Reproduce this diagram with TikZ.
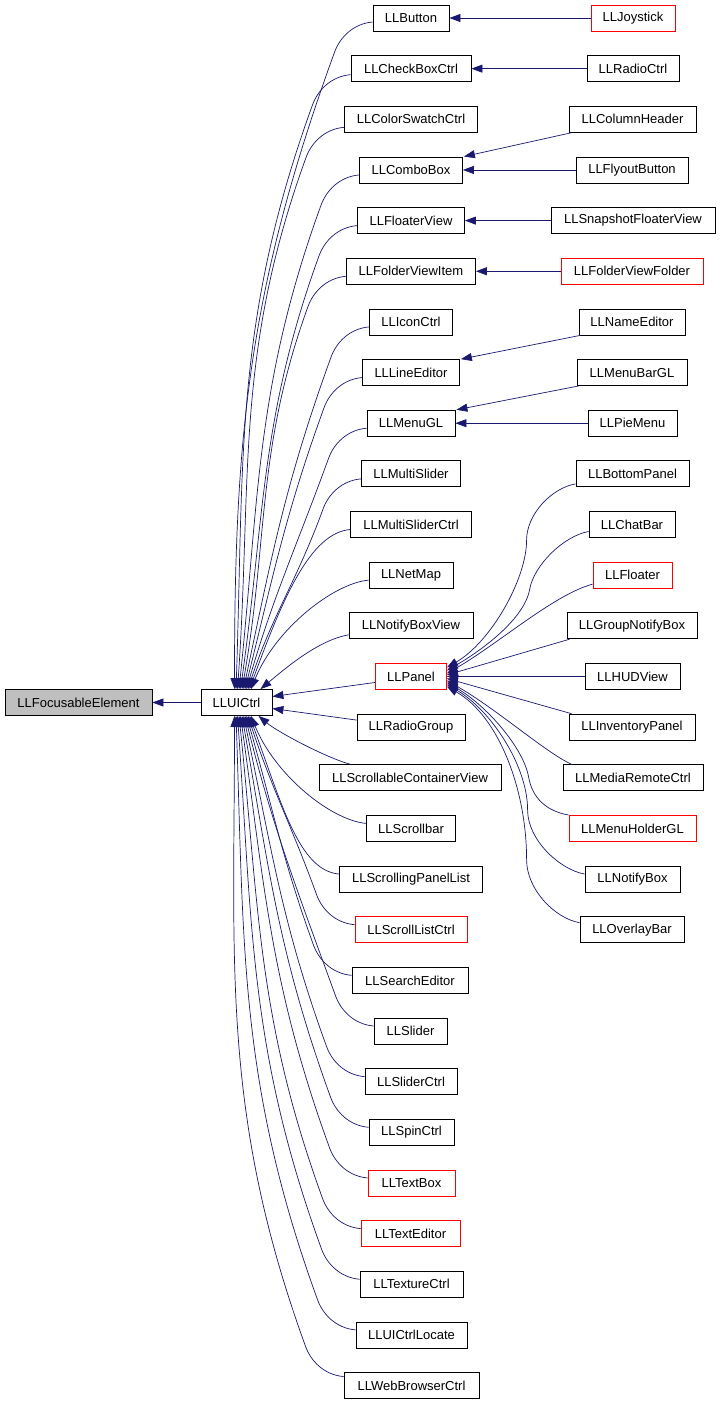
\documentclass[tikz,border=0pt]{standalone}
\usepackage{fontspec}
\setmainfont{Liberation Sans}
\usetikzlibrary{arrows.meta}
\definecolor{navy}{HTML}{191970}
\definecolor{grayfill}{HTML}{BFBFBF}
\tikzset{
  box/.style={draw=black, line width=0.8pt, fill=white, minimum height=26pt, inner sep=0pt,
    font=\fontsize{13}{15}\selectfont},
  redbox/.style={box, draw=red},
  edge/.style={draw=navy, line width=0.7pt, -{Triangle[length=11pt,width=8pt]}},
  kneeup/.style={out=185,in=70,out distance=20pt,in distance=15pt},
  kneedn/.style={out=175,in=-70,out distance=20pt,in distance=15pt},
}
\begin{document}
\begin{tikzpicture}[x=1pt,y=1pt]
\useasboundingbox (0,0) rectangle (720,-1405);
% root and base
\node[box, fill=grayfill, minimum width=147pt] (fe) at (78.5,-702.5) {LLFocusableElement};
\node[box, minimum width=71pt] (ui) at (236.5,-702.5) {LLUICtrl};
% column 2
\node[box, minimum width=76pt]  (c0)  at (411,-18)      {LLButton};
\node[box, minimum width=120pt] (c1)  at (411,-68.65)   {LLCheckBoxCtrl};
\node[box, minimum width=133pt] (c2)  at (411,-119.3)   {LLColorSwatchCtrl};
\node[box, minimum width=103pt] (c3)  at (411,-169.95)  {LLComboBox};
\node[box, minimum width=107pt] (c4)  at (411,-220.6)   {LLFloaterView};
\node[box, minimum width=129pt] (c5)  at (411,-271.25)  {LLFolderViewItem};
\node[box, minimum width=83pt]  (c6)  at (411,-321.9)   {LLIconCtrl};
\node[box, minimum width=97pt]  (c7)  at (411,-372.55)  {LLLineEditor};
\node[box, minimum width=88pt]  (c8)  at (411,-423.2)   {LLMenuGL};
\node[box, minimum width=99pt]  (c9)  at (411,-473.85)  {LLMultiSlider};
\node[box, minimum width=121pt] (c10) at (411,-524.5)   {LLMultiSliderCtrl};
\node[box, minimum width=84pt]  (c11) at (411,-575.15)  {LLNetMap};
\node[box, minimum width=124pt] (c12) at (411,-625.8)   {LLNotifyBoxView};
\node[redbox, minimum width=71pt] (c13) at (411,-676.45) {LLPanel};
\node[box, minimum width=108pt] (c14) at (411,-727.1)   {LLRadioGroup};
\node[box, minimum width=182pt] (c15) at (410,-777.75)  {LLScrollableContainerView};
\node[box, minimum width=89pt]  (c16) at (411,-828.4)   {LLScrollbar};
\node[box, minimum width=143pt] (c17) at (411,-879.05)  {LLScrollingPanelList};
\node[redbox, minimum width=112pt] (c18) at (411,-929.7) {LLScrollListCtrl};
\node[box, minimum width=116pt] (c19) at (410,-980.35)  {LLSearchEditor};
\node[box, minimum width=73pt]  (c20) at (410.5,-1031)  {LLSlider};
\node[box, minimum width=92pt]  (c21) at (411,-1081.65) {LLSliderCtrl};
\node[box, minimum width=85pt]  (c22) at (411.5,-1132.3) {LLSpinCtrl};
\node[redbox, minimum width=87pt] (c23) at (411.5,-1182.95) {LLTextBox};
\node[redbox, minimum width=99pt] (c24) at (410.5,-1233.6) {LLTextEditor};
\node[box, minimum width=103pt] (c25) at (411.5,-1284.25) {LLTextureCtrl};
\node[box, minimum width=111pt] (c26) at (411.5,-1334.9) {LLUICtrlLocate};
\node[box, minimum width=135pt] (c27) at (411.5,-1385.55) {LLWebBrowserCtrl};
% column 3
\node[redbox, minimum width=84pt] (joy) at (633,-18) {LLJoystick};
\node[box, minimum width=92pt]  (rad) at (633,-68.65) {LLRadioCtrl};
\node[box, minimum width=127pt] (colh) at (632.5,-119.3) {LLColumnHeader};
\node[box, minimum width=112pt] (fly) at (632,-169.95) {LLFlyoutButton};
\node[box, minimum width=164pt] (snap) at (633,-220.6) {LLSnapshotFloaterView};
\node[redbox, minimum width=142pt] (fvf) at (632,-271.25) {LLFolderViewFolder};
\node[box, minimum width=106pt] (ned) at (632,-321.9) {LLNameEditor};
\node[box, minimum width=110pt] (mbar) at (632,-372.55) {LLMenuBarGL};
\node[box, minimum width=89pt]  (pie) at (632.5,-423.2) {LLPieMenu};
\node[box, minimum width=113pt] (bp) at (632.5,-473.85) {LLBottomPanel};
\node[box, minimum width=86pt]  (chat) at (632,-524.5) {LLChatBar};
\node[redbox, minimum width=79pt] (flo) at (632.5,-575.15) {LLFloater};
\node[box, minimum width=130pt] (gnb) at (632,-625.8) {LLGroupNotifyBox};
\node[box, minimum width=95pt]  (hud) at (632.5,-676.45) {LLHUDView};
\node[box, minimum width=126pt] (inv) at (632,-727.1) {LLInventoryPanel};
\node[box, minimum width=140pt] (mrc) at (633,-777.75) {LLMediaRemoteCtrl};
\node[redbox, minimum width=127pt] (mh) at (632.5,-828.4) {LLMenuHolderGL};
\node[box, minimum width=95pt]  (nb) at (632.5,-879.05) {LLNotifyBox};
\node[box, minimum width=104pt] (ovl) at (632,-929.7) {LLOverlayBar};
% base edge
\draw[edge] (ui.west) -- (fe.east);
% upper children of LLUICtrl
\draw[edge] ([yshift=-4pt]c0.west)  to[kneeup] ++(-38,-30) to[out=250,in=90] ([xshift=-2pt]ui.north);
\draw[edge] ([yshift=-6pt]c1.west)  to[kneeup] ++(-38,-30) to[out=250,in=88] ([xshift=-0.5pt]ui.north);
\draw[edge] ([yshift=-8pt]c2.west)  to[kneeup] ++(-38,-30) to[out=250,in=86] ([xshift=1pt]ui.north);
\draw[edge] ([yshift=-5pt]c3.west)  to[kneeup] ++(-38,-30) to[out=250,in=84] ([xshift=2.5pt]ui.north);
\draw[edge] ([yshift=-5pt]c4.west)  to[kneeup] ++(-38,-30) to[out=250,in=82] ([xshift=4pt]ui.north);
\draw[edge] ([yshift=-5pt]c5.west)  to[kneeup] ++(-38,-30) to[out=250,in=80] ([xshift=5.5pt]ui.north);
\draw[edge] ([yshift=-5pt]c6.west)  to[kneeup] ++(-38,-30) to[out=250,in=78] ([xshift=7pt]ui.north);
\draw[edge] ([yshift=-5pt]c7.west)  to[kneeup] ++(-38,-30) to[out=250,in=76] ([xshift=8.5pt]ui.north);
\draw[edge] ([yshift=-5pt]c8.west)  to[kneeup] ++(-38,-30) to[out=250,in=74] ([xshift=10pt]ui.north);
\draw[edge] ([yshift=-5pt]c9.west)  to[kneeup] ++(-38,-30) to[out=250,in=72] ([xshift=11.5pt]ui.north);
\draw[edge] ([yshift=-5pt]c10.west) to[out=185,in=70,out distance=40pt,in distance=96pt] ([xshift=13pt]ui.north);
\draw[edge] ([yshift=-5pt]c11.west) to[out=185,in=68,out distance=35pt,in distance=65pt] ([xshift=14.5pt]ui.north);
% middle children
\draw[edge] ([yshift=-9pt]c12.west) to[out=190,in=40,out distance=30pt,in distance=35pt] ([xshift=24pt]ui.north);
\draw[edge] ([yshift=-6pt]c13.west) -- ([yshift=6pt]ui.east);
\draw[edge] ([yshift=7pt]c14.west) -- ([yshift=-6pt]ui.east);
\draw[edge] ([xshift=32pt]c15.north west) to[out=165,in=-40,out distance=25pt,in distance=25pt] ([xshift=22pt]ui.south);
% lower children of LLUICtrl
\draw[edge] ([yshift=5pt]c16.west) to[out=175,in=-68,out distance=35pt,in distance=64pt] ([xshift=14.5pt]ui.south);
\draw[edge] ([yshift=5pt]c17.west) to[out=175,in=-70,out distance=40pt,in distance=95pt] ([xshift=13pt]ui.south);
\draw[edge] ([yshift=5pt]c18.west) to[kneedn] ++(-38,30) to[out=110,in=-72] ([xshift=11.5pt]ui.south);
\draw[edge] ([yshift=5pt]c19.west) to[kneedn] ++(-38,30) to[out=110,in=-74] ([xshift=10pt]ui.south);
\draw[edge] ([yshift=5pt]c20.west) to[kneedn] ++(-38,30) to[out=110,in=-76] ([xshift=8.5pt]ui.south);
\draw[edge] ([yshift=5pt]c21.west) to[kneedn] ++(-38,30) to[out=110,in=-78] ([xshift=7pt]ui.south);
\draw[edge] ([yshift=5pt]c22.west) to[kneedn] ++(-38,30) to[out=110,in=-80] ([xshift=5.5pt]ui.south);
\draw[edge] ([yshift=5pt]c23.west) to[kneedn] ++(-38,30) to[out=110,in=-82] ([xshift=4pt]ui.south);
\draw[edge] ([yshift=5pt]c24.west) to[kneedn] ++(-38,30) to[out=110,in=-84] ([xshift=2.5pt]ui.south);
\draw[edge] ([yshift=5pt]c25.west) to[kneedn] ++(-38,30) to[out=110,in=-86] ([xshift=1pt]ui.south);
\draw[edge] ([yshift=5pt]c26.west) to[kneedn] ++(-38,30) to[out=110,in=-88] ([xshift=-0.5pt]ui.south);
\draw[edge] ([yshift=9pt]c27.west) to[kneedn] ++(-38,30) to[out=110,in=-90] ([xshift=-2pt]ui.south);
% column 3 -> column 2
\draw[edge] (joy.west) -- (c0.east);
\draw[edge] (rad.west) -- (c1.east);
\draw[edge] ([xshift=3pt]colh.south west) -- ([xshift=1pt]c3.north east);
\draw[edge] (fly.west) -- (c3.east);
\draw[edge] (snap.west) -- (c4.east);
\draw[edge] (fvf.west) -- (c5.east);
\draw[edge] ([xshift=2pt]ned.south west) -- ([xshift=1pt]c7.north east);
\draw[edge] ([xshift=2pt]mbar.south west) -- ([xshift=1pt]c8.north east);
\draw[edge] (pie.west) -- (c8.east);
% LLPanel children
\draw[edge] ([yshift=-10pt]bp.west) to[out=190,in=90,out distance=25pt,in distance=25pt] ++(-49,-56)
  to[out=270,in=30,out distance=40pt,in distance=50pt] ([yshift=9pt]c13.east);
\draw[edge] ([yshift=-7pt]chat.west) to[out=190,in=80,out distance=25pt,in distance=25pt] ++(-59,-58)
  to[out=260,in=30,out distance=30pt,in distance=40pt] ([yshift=6pt]c13.east);
\draw[edge] ([yshift=-9pt]flo.west) to[out=195,in=30,out distance=40pt,in distance=60pt] ([yshift=3pt]c13.east);
\draw[edge] ([xshift=3pt]gnb.south west) -- ([yshift=1.5pt]c13.east);
\draw[edge] (hud.west) -- (c13.east);
\draw[edge] ([xshift=3pt]inv.north west) -- ([yshift=-2pt]c13.east);
\draw[edge] ([xshift=9pt]mrc.north west) to[out=155,in=-30,out distance=30pt,in distance=60pt] ([yshift=-4pt]c13.east);
\draw[edge] (mh.north west) to[out=170,in=-80,out distance=22pt,in distance=22pt] ++(-40,38)
  to[out=100,in=-30,out distance=30pt,in distance=45pt] ([yshift=-6pt]c13.east);
\draw[edge] ([yshift=5pt]nb.west) to[out=170,in=-90,out distance=25pt,in distance=30pt] ++(-57,64)
  to[out=90,in=-30,out distance=45pt,in distance=50pt] ([yshift=-8pt]c13.east);
\draw[edge] ([yshift=7pt]ovl.west) to[out=170,in=-90,out distance=25pt,in distance=30pt] ++(-53,63)
  to[out=90,in=-30,out distance=70pt,in distance=60pt] ([yshift=-10pt]c13.east);
\end{tikzpicture}
\end{document}
